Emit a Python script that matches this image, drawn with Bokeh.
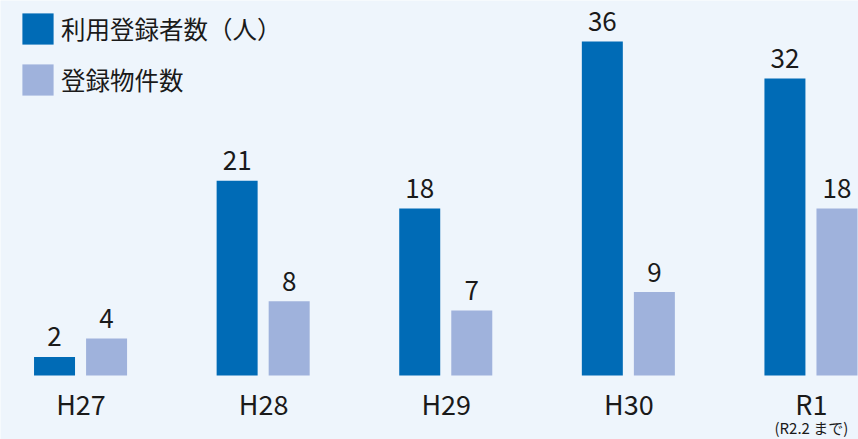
from bokeh.plotting import figure
from bokeh.models import Range1d, Legend, LegendItem, ColumnDataSource
from bokeh.transform import dodge
from bokeh.core.properties import value
from bokeh.embed import file_html
from bokeh.resources import INLINE

# ---- data ----
years = ["H27", "H28", "H29", "H30", "R1"]
users = [2, 21, 18, 36, 32]          # 利用登録者数（人）
listings = [4, 8, 7, 9, 18]          # 登録物件数
series_names = ["利用登録者数（人）", "登録物件数"]
note = "(R2.2 まで)"

# ---- styles ----
FONT = "Noto Sans CJK JP"
DARK = "#006bb6"
LIGHT = "#9fb2dc"
BG = "#eef5fc"
TXT = "#1a1a1a"

xs = list(range(len(years)))
src = ColumnDataSource(dict(
    x=xs, year=years, users=users, listings=listings,
    ul=[str(v) for v in users], ll=[str(v) for v in listings]))

p = figure(width=858, height=439,
           x_range=Range1d(-0.4409, 4.2579), y_range=Range1d(-6.897, 40.418),
           output_backend="svg", toolbar_location=None, min_border=0)
p.axis.visible = False
p.grid.visible = False
p.outline_line_color = None
p.background_fill_color = BG
p.border_fill_color = BG

OFF_A, OFF_B, W = -0.145, 0.14, 0.2245
r1 = p.vbar(x=dodge('x', OFF_A, range=p.x_range), top='users', bottom=0, width=W,
            source=src, fill_color=DARK, line_color=None)
r2 = p.vbar(x=dodge('x', OFF_B, range=p.x_range), top='listings', bottom=0, width=W,
            source=src, fill_color=LIGHT, line_color=None)

common = dict(text_align='center', text_baseline='middle',
              text_font=value(FONT), text_color=TXT, source=src)
p.text(x=dodge('x', OFF_A, range=p.x_range), y='users', text='ul', y_offset=-20,
       text_font_size='26px', **common)
p.text(x=dodge('x', OFF_B, range=p.x_range), y='listings', text='ll', y_offset=-20,
       text_font_size='26px', **common)
p.text(x='x', y=0, text='year', y_offset=28, text_font_size='27px', **common)

p.text(x=[xs[-1]], y=[0], text=[note], y_offset=52, text_align='center',
       text_baseline='middle', text_font=value(FONT), text_color=TXT,
       text_font_size='15px')

legend = Legend(items=[LegendItem(label=series_names[0], renderers=[r1]),
                       LegendItem(label=series_names[1], renderers=[r2])],
                location=(18, 340), orientation="vertical",
                border_line_color=None, background_fill_alpha=0,
                padding=0, margin=0, spacing=12, label_standoff=4,
                glyph_width=39, glyph_height=39,
                label_text_font=FONT, label_text_font_size='24.5px',
                label_text_color=TXT)
p.add_layout(legend)

html = file_html(p, INLINE)
html = html.replace("<body>", '<body style="background:%s">' % BG, 1)
open("out.html", "w").write(html)
